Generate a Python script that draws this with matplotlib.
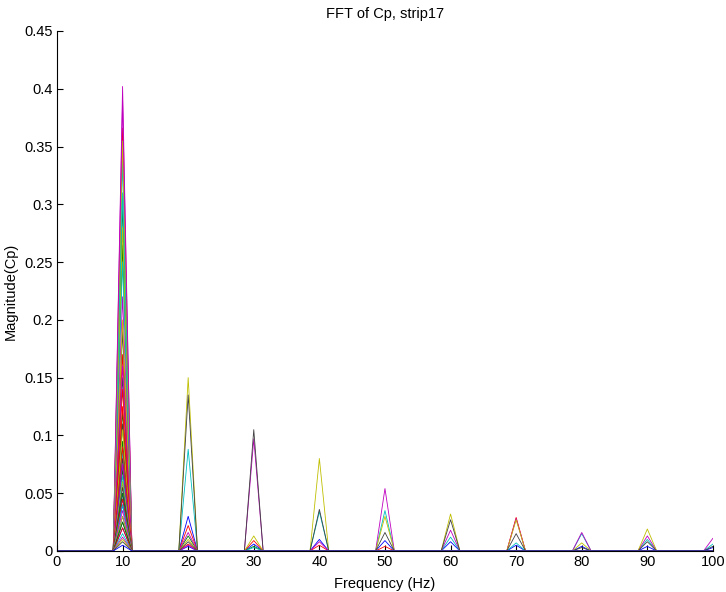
import numpy as np
import matplotlib
matplotlib.use("Agg")
import matplotlib.pyplot as plt

plt.rcParams['font.family'] = ['Liberation Sans', 'DejaVu Sans']

# FFT bin spacing (Hz) and number of bins kept
df = 10.0 / 7.0
n_bins = 76
freq = np.arange(n_bins) * df

# classic MATLAB line colour order
colors = [(0, 0, 1), (0, 0.5, 0), (1, 0, 0), (0, 0.75, 0.75),
          (0.75, 0, 0.75), (0.75, 0.75, 0), (0.25, 0.25, 0.25)]

# magnitude of the 10 Hz component for each pressure tap on the strip
amp10 = [0.075, 0.300, 0.366, 0.338, 0.402, 0.355, 0.190,
         0.060, 0.265, 0.170, 0.310, 0.390, 0.280, 0.150,
         0.050, 0.120, 0.140, 0.250, 0.220, 0.200, 0.110,
         0.045, 0.095, 0.125, 0.085, 0.160, 0.105, 0.080,
         0.040, 0.070, 0.090, 0.065, 0.075, 0.060, 0.055,
         0.030, 0.050, 0.045, 0.040, 0.035, 0.030, 0.025,
         0.020, 0.025, 0.020, 0.015, 0.012, 0.010, 0.008,
         0.005, 0.000]

# higher harmonics: (tap index, magnitude)
h20 = [(5, 0.150), (6, 0.135), (3, 0.088), (0, 0.030), (2, 0.022), (4, 0.016),
       (1, 0.013), (12, 0.010), (13, 0.008), (9, 0.006), (11, 0.005), (7, 0.004)]
h30 = [(6, 0.105), (4, 0.097), (5, 0.013), (2, 0.009), (0, 0.006), (1, 0.004), (3, 0.003)]
h40 = [(5, 0.080), (6, 0.036), (3, 0.034), (0, 0.010), (4, 0.008), (2, 0.005)]
h50 = [(4, 0.054), (3, 0.035), (5, 0.030), (6, 0.016), (0, 0.009), (2, 0.004)]
h60 = [(5, 0.032), (6, 0.027), (4, 0.018), (3, 0.012), (0, 0.008)]
h70 = [(2, 0.029), (4, 0.028), (5, 0.027), (6, 0.015), (3, 0.007), (0, 0.005)]
h80 = [(4, 0.016), (3, 0.015), (5, 0.007), (0, 0.004), (6, 0.003)]
h90 = [(5, 0.019), (4, 0.013), (3, 0.010), (6, 0.008), (0, 0.004)]
h100 = [(4, 0.011), (3, 0.006), (6, 0.004), (0, 0.003)]
harmonics = [h20, h30, h40, h50, h60, h70, h80, h90, h100]

n_taps = len(amp10)
mag = np.zeros((n_taps, n_bins))
for i, a in enumerate(amp10):
    mag[i, 7] = a
for k, hk in enumerate(harmonics):
    b = 7 * (k + 2)
    for i, a in hk:
        mag[i, b] = a

fig = plt.figure(figsize=(7.26, 5.92), dpi=100)
ax = fig.add_axes([0.0785, 0.0693, 0.9035, 0.8784])

for i in range(n_taps):
    ax.plot(freq, mag[i], color=colors[i % 7], linewidth=0.6)

ax.set_xlim(0, 100)
ax.set_ylim(0, 0.45)
ax.set_xticks(np.arange(0, 101, 10))
ax.set_yticks(np.arange(0, 0.451, 0.05))
ax.set_yticklabels(['0', '0.05', '0.1', '0.15', '0.2', '0.25', '0.3', '0.35', '0.4', '0.45'])
ax.tick_params(direction='in', length=4, labelsize=10.5, pad=3)
ax.spines['top'].set_visible(False)
ax.spines['right'].set_visible(False)

ax.set_title('FFT of Cp, strip17', fontsize=10.5, pad=9)
ax.set_xlabel('Frequency (Hz)', fontsize=10.5, labelpad=6)
ax.set_ylabel('Magnitude(Cp)', fontsize=10.5, labelpad=5)

fig.savefig('out.png', dpi=100)
